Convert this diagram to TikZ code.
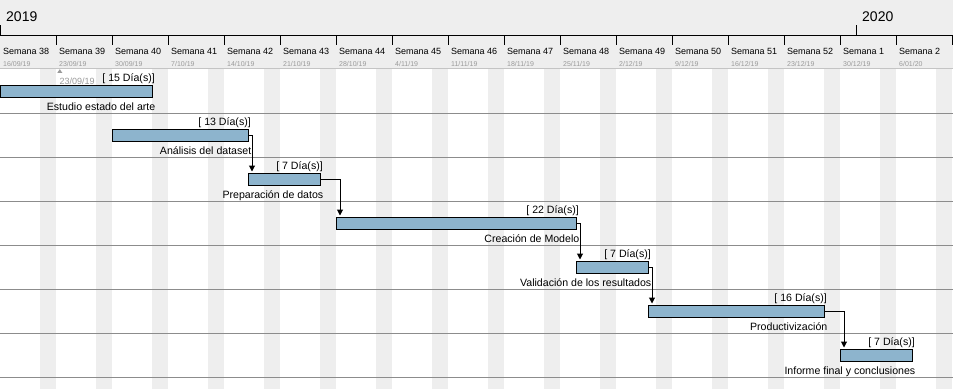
\documentclass[tikz,border=0pt]{standalone}
\usepackage{fontspec}
\setmainfont{Liberation Sans}
\usetikzlibrary{arrows.meta,calc}
\definecolor{hdrbg}{HTML}{EEEEEE}
\definecolor{wkend}{HTML}{EEEEEE}
\definecolor{hdrline}{HTML}{C4C4C4}
\definecolor{rowline}{HTML}{8C8C8C}
\definecolor{barfill}{HTML}{8DB4CD}
\definecolor{datecol}{HTML}{9A9A9A}
\begin{document}
\begin{tikzpicture}[x=1pt,y=-1pt,
  bar/.style={draw=black, line width=1pt, fill=barfill, anchor=north west,
    minimum height=12pt, inner sep=0pt, outer sep=0pt},
  dur/.style={anchor=base east, inner sep=0pt, font=\fontsize{10.6}{12}\selectfont},
  task/.style={anchor=base east, inner sep=0pt, font=\fontsize{10.6}{12}\selectfont},
  weeklbl/.style={anchor=base west, inner sep=0pt, font=\fontsize{9}{10}\selectfont},
  datelbl/.style={anchor=base west, inner sep=0pt, text=datecol, font=\fontsize{7}{8}\selectfont},
  yearlbl/.style={anchor=base west, inner sep=0pt, font=\fontsize{14}{16}\selectfont},
  link/.style={draw=black, line width=1pt, -{Triangle[width=6pt,length=6pt]}, shorten >=1.5pt},
  tick/.style={draw=black, line width=1pt}]

\useasboundingbox (0,0) rectangle (953,389);
\fill[white] (0,0) rectangle (953,389);

% weekend columns
\foreach \k in {0,...,16}
  \fill[wkend] ({56*\k+40},68) rectangle ({56*\k+56},389);

% timeline header
\fill[hdrbg] (0,0) rectangle (953,68);
\draw[hdrline, line width=1pt] (0,68) -- (953,68);
\draw[tick] (0,35) -- (953,35);
\draw[tick] (0.5,25) -- (0.5,35);
\draw[tick] (856.5,25) -- (856.5,35);
\node[yearlbl] (y2019) at (6,21.7) {2019};
\node[yearlbl] (y2020) at (862,21.7) {2020};
\foreach \k in {1,...,17}
  \draw[tick] ({56*\k},35) -- ({56*\k},45);
\foreach \w/\d [count=\k from 0] in {38/16\slash 09\slash 19, 39/23\slash 09\slash 19,
    40/30\slash 09\slash 19, 41/7\slash 10\slash 19, 42/14\slash 10\slash 19,
    43/21\slash 10\slash 19, 44/28\slash 10\slash 19, 45/4\slash 11\slash 19,
    46/11\slash 11\slash 19, 47/18\slash 11\slash 19, 48/25\slash 11\slash 19,
    49/2\slash 12\slash 19, 50/9\slash 12\slash 19, 51/16\slash 12\slash 19,
    52/23\slash 12\slash 19, 1/30\slash 12\slash 19, 2/6\slash 01\slash 20} {
  \node[weeklbl] (w\k) at ({56*\k+3},54.5) {Semana \w};
  \node[datelbl] (d\k) at ({56*\k+3},66.5) {\d};
}

% row separators
\foreach \r in {0,...,6}
  \draw[rowline, line width=1pt] (0,{113+44*\r}) -- (953,{113+44*\r});

% start marker
\fill[datecol] (57.3,72.8) -- (59.8,69.2) -- (62.3,72.8) -- cycle;
\node[anchor=base west, inner sep=0pt, text=datecol, font=\fontsize{9}{10}\selectfont] (start) at (59.5,84.3) {23/09/19};

% task bars with durations and names
\foreach \i/\s/\e/\d/\n in {
    1/0/152/15/Estudio estado del arte,
    2/112/248/13/Análisis del dataset,
    3/248/320/7/Preparación de datos,
    4/336/576/22/Creación de Modelo,
    5/576/648/7/Validación de los resultados,
    6/648/824/16/Productivización,
    7/840/912/7/Informe final y conclusiones} {
  \node[bar, minimum width={(\e-\s)*1pt}] (b\i) at (\s,{85+44*(\i-1)}) {};
  \node[dur] (t\i) at ($(b\i.north east)+(3,-3.5)$) {[ \d\ Día(s)]};
  \node[task] (n\i) at ($(b\i.south east)+(3.5,13)$) {\n};
}

% dependencies
\foreach \a/\b in {2/3, 3/4, 4/5, 5/6, 6/7}
  \draw[link] (b\a.east) -| ($(b\b.north west)+(4,0)$);

\end{tikzpicture}
\end{document}
